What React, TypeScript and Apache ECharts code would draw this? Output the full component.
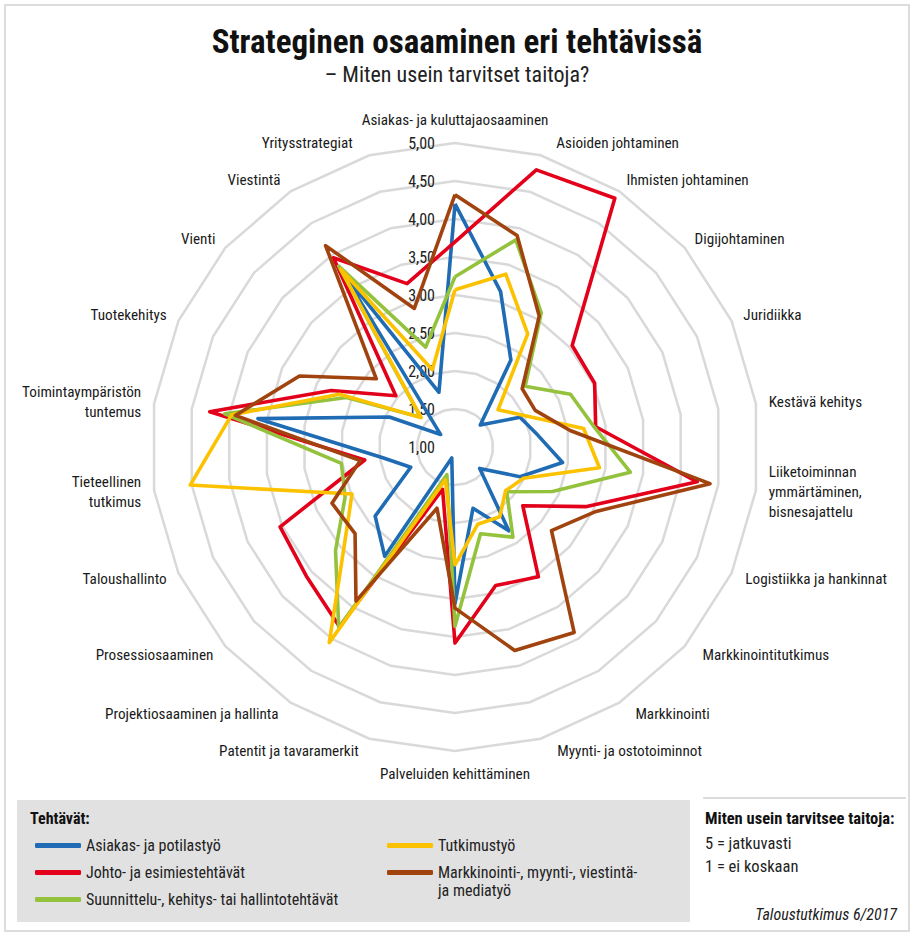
import React, { useEffect, useRef } from 'react';
import * as echarts from 'echarts';

// Indicators in clockwise order starting from the top
const indicatorNames = [
  'Asiakas- ja kuluttajaosaaminen',
  'Asioiden johtaminen',
  'Ihmisten johtaminen',
  'Digijohtaminen',
  'Juridiikka',
  'Kestävä kehitys',
  'Liiketoiminnan\nymmärtäminen,\nbisnesajattelu',
  'Logistiikka ja hankinnat',
  'Markkinointitutkimus',
  'Markkinointi',
  'Myynti- ja ostotoiminnot',
  'Palveluiden kehittäminen',
  'Patentit ja tavaramerkit',
  'Projektiosaaminen ja hallinta',
  'Prosessiosaaminen',
  'Taloushallinto',
  'Tieteellinen\ntutkimus',
  'Toimintaympäristön\ntuntemus',
  'Tuotekehitys',
  'Vienti',
  'Viestintä',
  'Yritysstrategiat',
];

const seriesNames = [
  'Asiakas- ja potilastyö',
  'Johto- ja esimiestehtävät',
  'Suunnittelu-, kehitys- tai hallintotehtävät',
  'Tutkimustyö',
  'Markkinointi-, myynti-, viestintä- ja mediatyö',
];

const asiakasValues = [4.2, 3.13, 2.36, 1.44, 1.94, 2.1, 2.43, 1.94, 1.43, 2.31, 1.84, 3.06, 1.15, 2.71, 2.39, 1.64, 1.97, 3.62, 1.95, 1.25, 3.7, 1.75];
const johtoValues = [3.7, 4.8, 4.89, 3.04, 3.02, 2.87, 4.22, 2.89, 2.18, 3.03, 2.9, 3.58, 1.58, 3.81, 3.59, 3.53, 2.2, 4.26, 2.79, 2.03, 3.96, 3.24];
const suunnitteluValues = [3.24, 3.84, 3.1, 2.22, 2.67, 2.85, 3.33, 2.41, 1.9, 2.41, 2.19, 3.36, 1.38, 3.83, 3.08, 2.59, 2.51, 4.06, 2.57, 1.6, 3.83, 2.37];
const tutkimusValues = [3.07, 3.37, 2.77, 1.75, 2.0, 2.71, 2.92, 1.99, 1.88, 2.09, 2.06, 2.55, 1.45, 4.06, 2.92, 2.49, 4.52, 3.97, 2.67, 1.59, 3.78, 2.06];
const markkinointiValues = [4.32, 3.9, 3.05, 2.17, 2.16, 2.53, 4.39, 3.04, 2.68, 3.9, 3.79, 3.12, 1.84, 3.41, 2.74, 2.78, 2.26, 3.92, 3.25, 2.37, 4.15, 2.9];

const allValues = [asiakasValues, johtoValues, suunnitteluValues, tutkimusValues, markkinointiValues];

const scaleMin = 1;
const scaleMax = 5;

const colors = ['#1f6cb4', '#e2001a', '#94c23d', '#fcc200', '#a1430f'];

// Small label nudges [dx, dy] (layout only), in indicator order
const nameNudge: [number, number][] = [
  [0, 0], [12, 6], [0, 1], [-3, 0], [-4, 0], [0, 0], [0, -2], [2, -5], [8, -6], [9, -4], [13, -5],
  [0, 0], [-7, -5], [-5, -5], [-2, -6], [0, -5], [0, -3], [0, 0], [0, 0], [0, 0], [-3, 3], [-13, 6],
];

const FONT = '"Liberation Sans Narrow", "Roboto Condensed", "DejaVu Sans Condensed", "Liberation Sans", sans-serif';

export default function App() {
  const ref = useRef<HTMLDivElement>(null);

  useEffect(() => {
    if (!ref.current) return;
    const chart = echarts.init(ref.current, undefined, { renderer: 'svg' });

    // ECharts radar runs counter-clockwise; reorder to get clockwise layout
    const n = indicatorNames.length;
    const order = [0];
    for (let i = n - 1; i >= 1; i--) order.push(i);

    const indicator = order.map((i, idx) => {
      const item: any = { name: indicatorNames[i], min: scaleMin, max: scaleMax };
      if (idx === 0) item.axisLabel = { show: true };
      const [dx, dy] = nameNudge[i];
      const rightSide = i > 0 && i < 11;
      const leftSide = i > 11;
      const pad = [0, 0, 0, 0];
      if (dy > 0) pad[0] = 2 * dy;
      if (dy < 0) pad[2] = -2 * dy;
      if (rightSide && dx > 0) pad[3] = dx;
      if (leftSide && dx < 0) pad[1] = -dx;
      if (pad.some((p) => p !== 0)) item.nameTextStyle = { padding: pad };
      return item;
    });

    const brownName = seriesNames[4];

    const option: any = {
      animation: false,
      backgroundColor: '#ffffff',
      textStyle: { fontFamily: FONT },
      title: {
        text: 'Strateginen osaaminen eri tehtävissä',
        subtext: '– Miten usein tarvitset taitoja?',
        left: 'center',
        top: 20,
        itemGap: 5,
        textStyle: { fontFamily: FONT, fontSize: 33, fontWeight: 'bold', color: '#111' },
        subtextStyle: { fontFamily: FONT, fontSize: 22, color: '#222' },
      },
      legend: [
        {
          data: seriesNames.slice(0, 3),
          orient: 'vertical',
          left: 30,
          top: 831,
          itemWidth: 46,
          itemHeight: 5,
          itemGap: 8,
          icon: 'roundRect',
          selectedMode: false,
          textStyle: { fontFamily: FONT, fontSize: 16, lineHeight: 19, color: '#222' },
        },
        {
          data: seriesNames.slice(3, 5),
          orient: 'vertical',
          left: 382,
          top: 831,
          itemWidth: 46,
          itemHeight: 5,
          itemGap: 8,
          icon: 'roundRect',
          selectedMode: false,
          formatter: (name: string) => (name === brownName ? 'Markkinointi-, myynti-, viestintä-' : name),
          textStyle: { fontFamily: FONT, fontSize: 16, lineHeight: 19, color: '#222' },
        },
      ],
      radar: {
        center: [455, 447],
        radius: 304,
        startAngle: 90,
        splitNumber: 8,
        shape: 'polygon',
        nameGap: 13,
        axisName: { color: '#1a1a1a', fontSize: 15.2, lineHeight: 20, fontFamily: FONT },
        axisLine: { show: false },
        axisTick: { show: false },
        axisLabel: {
          show: false,
          margin: 20,
          fontSize: 16,
          color: '#222',
          fontFamily: FONT,
          formatter: (v: number) => v.toFixed(2).replace('.', ','),
        },
        splitLine: { lineStyle: { color: '#d9d9d9', width: 2.5 } },
        splitArea: { show: false },
        indicator,
      },
      series: [
        {
          type: 'radar',
          symbol: 'none',
          data: allValues.map((vals, s) => ({
            name: seriesNames[s],
            value: order.map((i) => vals[i]),
            lineStyle: { color: colors[s], width: 3.6 },
            itemStyle: { color: colors[s] },
          })),
        },
      ],
      graphic: [
        {
          type: 'rect',
          shape: { x: 5, y: 5, width: 904, height: 926 },
          style: { fill: 'none', stroke: '#dcdcdc', lineWidth: 2 },
          z: -10,
        },
        {
          type: 'rect',
          shape: { x: 17, y: 800, width: 673, height: 122 },
          style: { fill: '#e1e1e1' },
          z: -5,
        },
        {
          type: 'line',
          shape: { x1: 703, y1: 798, x2: 906, y2: 798 },
          style: { stroke: '#dcdcdc', lineWidth: 2 },
        },
        {
          type: 'text',
          x: 30,
          y: 818,
          style: { text: 'Tehtävät:', font: `bold 16px ${FONT}`, fill: '#111', verticalAlign: 'middle' },
        },
        {
          type: 'text',
          x: 438,
          y: 890,
          style: { text: 'ja mediatyö', font: `16px ${FONT}`, fill: '#222', verticalAlign: 'middle' },
        },
        {
          type: 'text',
          x: 705,
          y: 818,
          style: { text: 'Miten usein tarvitsee taitoja:', font: `bold 16.5px ${FONT}`, fill: '#111', verticalAlign: 'middle' },
        },
        {
          type: 'text',
          x: 705,
          y: 843,
          style: { text: '5 = jatkuvasti', font: `16.5px ${FONT}`, fill: '#222', verticalAlign: 'middle' },
        },
        {
          type: 'text',
          x: 705,
          y: 866,
          style: { text: '1 = ei koskaan', font: `16.5px ${FONT}`, fill: '#222', verticalAlign: 'middle' },
        },
        {
          type: 'text',
          x: 897,
          y: 914,
          style: { text: 'Taloustutkimus 6/2017', font: `italic 16px ${FONT}`, fill: '#222', align: 'right', verticalAlign: 'middle' },
        },
      ],
    };

    chart.setOption(option);
    return () => chart.dispose();
  }, []);

  return (
    <div
      ref={ref}
      style={{ position: 'absolute', left: 0, top: 0, width: 914, height: 936, background: '#fff' }}
    />
  );
}
